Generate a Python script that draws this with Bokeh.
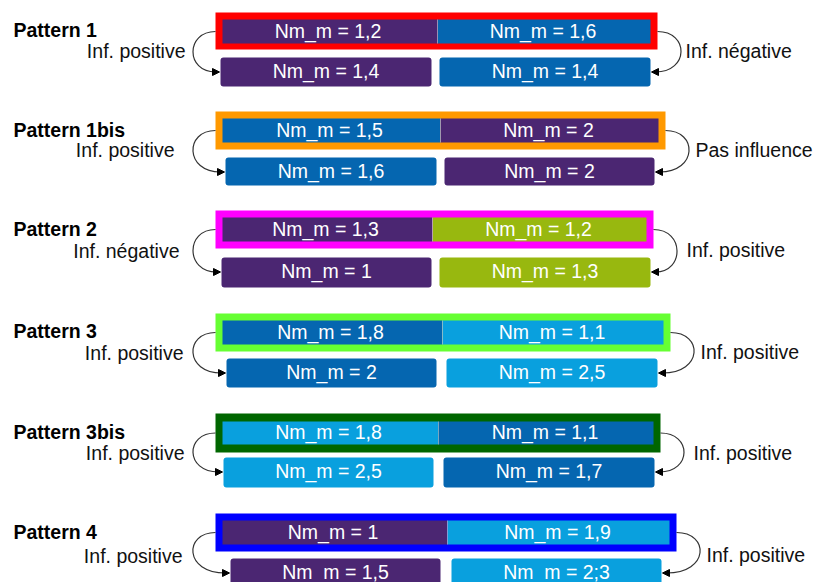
from bokeh.plotting import figure
from bokeh.models import Range1d, Arrow, NormalHead, ColumnDataSource
from bokeh.core.properties import value
from bokeh.embed import file_html
from bokeh.resources import INLINE

# ---- data ----
pattern_names = ["Pattern 1", "Pattern 1bis", "Pattern 2", "Pattern 3", "Pattern 3bis", "Pattern 4"]
left_influence = ["Inf. positive", "Inf. positive", "Inf. négative", "Inf. positive", "Inf. positive", "Inf. positive"]
right_influence = ["Inf. négative", "Pas influence", "Inf. positive", "Inf. positive", "Inf. positive", "Inf. positive"]
left_before = ["1,2", "1,5", "1,3", "1,8", "1,8", "1"]
right_before = ["1,6", "2", "1,2", "1,1", "1,1", "1,9"]
left_after = ["1,4", "1,6", "1", "2", "2,5", "1,5"]
right_after = ["1,4", "2", "1,3", "2,5", "1,7", "2;3"]
left_kind = ["purple", "blue", "purple", "blue", "lightblue", "purple"]
right_kind = ["blue", "purple", "green", "lightblue", "blue", "lightblue"]

# ---- styles ----
palette = {"purple": "#4b2672", "blue": "#0566b0", "lightblue": "#09a0de", "green": "#98b80f"}
frame_colors = ["#ff0000", "#ff9900", "#ff00ff", "#66ff33", "#006600", "#0000ff"]

# ---- layout (pixel geometry of the diagram) ----
frame_l = [215, 215, 215, 215, 215, 215]
frame_r = [657, 665, 653, 670, 660, 676]
frame_t = [12, 111, 210, 313, 413, 513]
frame_b = [49, 149, 248, 351, 452, 551]
inner_t = [19, 118, 217, 320, 421, 520]
inner_b = [43, 142, 241, 344, 444, 544]
split_x = [437, 440, 432, 442, 438, 447]
low_t = [57, 157, 257, 358, 457, 558]
low_b = [86, 185, 287, 387, 487, 590]
low1_l = [220, 225, 221, 226, 223, 230]
low1_r = [431, 436, 431, 436, 433, 440]
low2_l = [439, 444, 439, 446, 443, 451]
low2_r = [650, 654, 650, 657, 654, 661]
title_y = [29, 129, 228, 330, 431, 531]
lab_l_x = [185, 174, 179, 183, 184, 182]
lab_l_y = [50, 149, 250, 352, 452, 555]
lab_r_x = [685, 695, 686, 700, 693, 706]
lab_r_y = [50, 149, 249, 351, 452, 554]

FONT = "Liberation Sans"

p = figure(width=814, height=582, output_backend="svg", toolbar_location=None,
           x_range=Range1d(0, 814), y_range=Range1d(582, 0), min_border=0)
p.axis.visible = False
p.grid.visible = False
p.outline_line_color = None
p.background_fill_color = "white"
p.border_fill_color = "white"

n = len(pattern_names)
for i in range(n):
    # frame
    p.quad(left=frame_l[i], right=frame_r[i], top=frame_t[i], bottom=frame_b[i],
           fill_color=frame_colors[i], line_color=None)
    il, ir = frame_l[i] + 7, frame_r[i] - 7
    # inner bars
    p.quad(left=il, right=split_x[i], top=inner_t[i], bottom=inner_b[i],
           fill_color=palette[left_kind[i]], line_color=None)
    p.quad(left=split_x[i], right=ir, top=inner_t[i], bottom=inner_b[i],
           fill_color=palette[right_kind[i]], line_color=None)
    p.segment(x0=split_x[i], x1=split_x[i], y0=inner_t[i], y1=inner_b[i],
              line_color="#c8c8e0", line_width=1, line_alpha=0.6)
    # lower bars
    p.quad(left=low1_l[i], right=low1_r[i], top=low_t[i], bottom=low_b[i],
           fill_color=palette[left_kind[i]], line_color=None, border_radius=3)
    p.quad(left=low2_l[i], right=low2_r[i], top=low_t[i], bottom=low_b[i],
           fill_color=palette[right_kind[i]], line_color=None, border_radius=3)
    # bar texts
    ic = (inner_t[i] + inner_b[i]) / 2
    lc = low_t[i] + 14.5
    src = ColumnDataSource(dict(
        x=[(il + split_x[i]) / 2 - 2, (split_x[i] + ir) / 2 - 1,
           (low1_l[i] + low1_r[i]) / 2, (low2_l[i] + low2_r[i]) / 2],
        y=[ic - 1, ic - 1, lc - 1, lc - 1],
        t=["Nm_m = " + left_before[i], "Nm_m = " + right_before[i],
           "Nm_m = " + left_after[i], "Nm_m = " + right_after[i]]))
    p.text(x="x", y="y", text="t", source=src, text_color="white",
           text_font=value(FONT), text_font_size="19.5px", text_align="center",
           text_baseline="middle")
    # title
    p.text(x=[13], y=[title_y[i]], text=[pattern_names[i]], text_color="black",
           text_font=value(FONT), text_font_size="19.5px", text_font_style="bold",
           text_align="left", text_baseline="middle")
    # influence labels
    p.text(x=[lab_l_x[i]], y=[lab_l_y[i]], text=[left_influence[i]], text_color="#111111",
           text_font=value(FONT), text_font_size="19.5px", text_align="right",
           text_baseline="middle")
    p.text(x=[lab_r_x[i]], y=[lab_r_y[i]], text=[right_influence[i]], text_color="#111111",
           text_font=value(FONT), text_font_size="19.5px", text_align="left",
           text_baseline="middle")
    # curved arrows
    ly = low_t[i] + 14.5
    sx = frame_l[i]
    ex = low1_l[i] - 1
    c = (193 - 0.125 * (sx + ex)) / 0.75
    p.bezier(x0=sx, y0=ic, x1=ex - 4, y1=ly, cx0=c, cy0=ic, cx1=c, cy1=ly,
             line_color="#333333", line_width=1.2)
    p.add_layout(Arrow(x_start=ex - 6, y_start=ly, x_end=ex, y_end=ly, line_alpha=0,
                       end=NormalHead(size=7, fill_color="black", line_color="black")))
    sx2 = frame_r[i]
    ex2 = low2_r[i] + 1
    peak = max(sx2, ex2) + 23
    c2 = (peak - 0.125 * (sx2 + ex2)) / 0.75
    p.bezier(x0=sx2, y0=ic, x1=ex2 + 4, y1=ly, cx0=c2, cy0=ic, cx1=c2, cy1=ly,
             line_color="#333333", line_width=1.2)
    p.add_layout(Arrow(x_start=ex2 + 6, y_start=ly, x_end=ex2, y_end=ly, line_alpha=0,
                       end=NormalHead(size=7, fill_color="black", line_color="black")))

open("out.html", "w").write(file_html(p, INLINE))
